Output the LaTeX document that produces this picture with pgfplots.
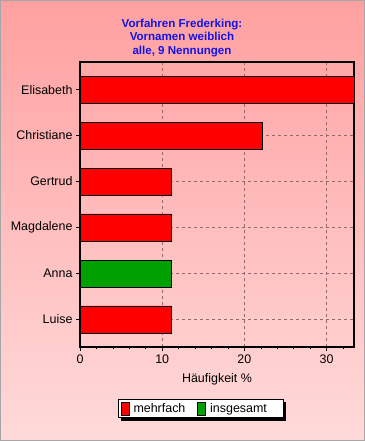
\documentclass[border=0pt]{standalone}
\usepackage{pgfplots}
\pgfplotsset{compat=1.18}
\usepackage{fontspec}
\setmainfont{Liberation Sans}
\definecolor{bgtop}{RGB}{255,160,160}
\definecolor{bgbot}{RGB}{255,218,218}
\definecolor{gridc}{RGB}{150,105,105}
\definecolor{barred}{RGB}{255,0,0}
\definecolor{bargreen}{RGB}{0,160,0}
\definecolor{titleblue}{RGB}{20,20,230}
\begin{document}
\begin{tikzpicture}
\shade[top color=bgtop, bottom color=bgbot] (0,0) rectangle (365bp,441bp);
\draw[gray!70, line width=1bp] (0.5bp,0.5bp) rectangle (364.5bp,440.5bp);
\node[font=\bfseries\fontsize{11.6}{14}\selectfont, text=titleblue, align=center, anchor=center] at (182bp,403bp) {Vorfahren Frederking:\\Vornamen weiblich\\alle, 9 Nennungen};
\begin{axis}[
  at={(80bp,94bp)}, anchor=south west,
  scale only axis, width=274bp, height=285bp,
  xbar, bar width=27bp, bar shift=0pt,
  xmin=0, xmax=33.33, ymin=-0.6, ymax=5.6,
  ytick={0,1,2,3,4,5},
  yticklabels={Luise,Anna,Magdalene,Gertrud,Christiane,Elisabeth},
  xtick={0,10,20,30},
  minor xtick={2,4,6,8,12,14,16,18,22,24,26,28,32},
  tick align=outside,
  major tick length=4bp, minor tick length=2.5bp,
  xtick pos=bottom, ytick pos=left,
  axis line style={line width=1.5bp},
  tick style={black, line width=0.6bp},
  grid=major,
  major grid style={gridc, dash pattern=on 3bp off 3bp, line width=0.6bp},
  tick label style={font=\fontsize{12.5}{14}\selectfont, text=black},
  /pgf/number format/assume math mode=true,
  xlabel={Häufigkeit \%},
  xlabel style={font=\fontsize{12.5}{14}\selectfont, at={(axis description cs:0.5,-0.112)}, anchor=center},
  legend columns=2,
  legend style={at={(axis description cs:0.441,-0.216)}, anchor=center, name=leg,
    draw=black, line width=0.8bp, fill=white,
    font=\fontsize{12.5}{14}\selectfont,
    inner xsep=2bp, inner ysep=1.5bp,
    /tikz/every odd column/.append style={column sep=2bp},
    /tikz/every even column/.append style={column sep=10bp}},
  legend image code/.code={\draw[#1, line width=0.8bp] (0bp,-6.5bp) rectangle (8bp,6.5bp);},
]
\addplot[draw=black, line width=0.8bp, fill=barred] coordinates {(11.11,0) (11.11,2) (11.11,3) (22.22,4) (33.33,5)};
\addlegendentry{mehrfach}
\addplot[draw=black, line width=0.8bp, fill=bargreen] coordinates {(11.11,1)};
\addlegendentry{insgesamt\hspace*{12bp}}
\end{axis}
\fill[black] ([yshift=-3bp]leg.north east) rectangle ([xshift=3bp,yshift=-3bp]leg.south east);
\fill[black] ([xshift=3bp]leg.south west) rectangle ([xshift=3bp,yshift=-3bp]leg.south east);
\end{tikzpicture}
\end{document}
